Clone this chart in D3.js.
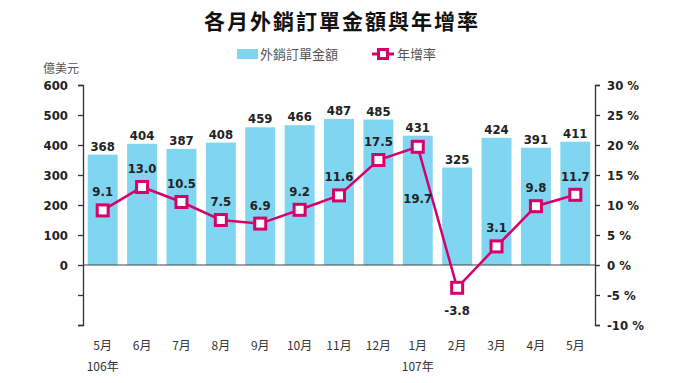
<!DOCTYPE html>
<html>
<head>
<meta charset="utf-8">
<script src="https://cdn.jsdelivr.net/npm/d3@7"></script>
<style>
  body { margin: 0; background: #fff; }
  text { font-family: "Liberation Sans Narrow", "DejaVu Sans Condensed", "Liberation Sans", Arial, sans-serif; font-stretch: condensed; }
  .cjk { font-family: "Noto Sans CJK TC", "Noto Sans", sans-serif; font-stretch: normal; }
</style>
</head>
<body>
<div id="chart"></div>
<script>
// data
const months = ["5月", "6月", "7月", "8月", "9月", "10月", "11月", "12月", "1月", "2月", "3月", "4月", "5月"];
const years = [{idx: 0, label: "106年"}, {idx: 8, label: "107年"}];
const amounts = [368, 404, 387, 408, 459, 466, 487, 485, 431, 325, 424, 391, 411];
const growth = [9.1, 13.0, 10.5, 7.5, 6.9, 9.2, 11.6, 17.5, 19.7, -3.8, 3.1, 9.8, 11.7];
const leftTicks = [0, 100, 200, 300, 400, 500, 600];
const rightTicks = [-10, -5, 0, 5, 10, 15, 20, 25, 30];

const W = 680, H = 383;
const margin = {top: 85, right: 85, bottom: 58, left: 83};
const barColor = "#80d5f1";
const lineColor = "#d6006b";

const svg = d3.select("#chart").append("svg")
  .attr("width", W).attr("height", H);

const x = d3.scaleBand()
  .domain(d3.range(months.length))
  .range([margin.left, W - margin.right])
  .paddingInner(0.24)
  .paddingOuter(0.12);

const yL = d3.scaleLinear().domain([-200, 600]).range([H - margin.bottom, margin.top]);
const yR = d3.scaleLinear().domain([-10, 30]).range([H - margin.bottom, margin.top]);

// title
svg.append("text")
  .attr("class", "cjk")
  .attr("x", 342).attr("y", 29)
  .attr("text-anchor", "middle")
  .style("font-size", "21px").style("font-weight", "bold")
  .style("letter-spacing", "2px")
  .attr("fill", "#111")
  .text("各月外銷訂單金額與年增率");

// legend
const lg = svg.append("g");
lg.append("rect").attr("x", 237).attr("y", 49).attr("width", 21).attr("height", 10).attr("fill", barColor);
lg.append("text").attr("class", "cjk").attr("x", 260).attr("y", 59)
  .style("font-size", "13px").attr("fill", "#555").text("外銷訂單金額");
lg.append("line").attr("x1", 372).attr("x2", 394).attr("y1", 54).attr("y2", 54)
  .attr("stroke", lineColor).attr("stroke-width", 3);
lg.append("rect").attr("x", 378.5).attr("y", 49.5).attr("width", 9).attr("height", 9)
  .attr("fill", "#fff").attr("stroke", lineColor).attr("stroke-width", 3);
lg.append("text").attr("class", "cjk").attr("x", 397).attr("y", 59)
  .style("font-size", "13px").attr("fill", "#555").text("年增率");

// unit label
svg.append("text").attr("class", "cjk").attr("x", 43).attr("y", 73)
  .style("font-size", "12px").attr("fill", "#555").text("億美元");

// bars
svg.append("g").selectAll("rect")
  .data(amounts)
  .join("rect")
  .attr("x", (d, i) => x(i))
  .attr("y", d => yL(d))
  .attr("width", x.bandwidth())
  .attr("height", d => yL(0) - yL(d))
  .attr("fill", barColor);

// bar labels
svg.append("g").selectAll("text")
  .data(amounts)
  .join("text")
  .attr("x", (d, i) => x(i) + x.bandwidth() / 2)
  .attr("y", d => yL(d) - 4)
  .attr("text-anchor", "middle")
  .style("font-size", "13px").style("font-weight", "bold")
  .attr("fill", "#222")
  .text(d => d);

// zero line
svg.append("line")
  .attr("x1", margin.left).attr("x2", W - margin.right)
  .attr("y1", yL(0)).attr("y2", yL(0))
  .attr("stroke", "#444").attr("stroke-width", 1.2);

// left axis
const axL = svg.append("g")
  .attr("transform", `translate(${margin.left},0)`)
  .call(d3.axisLeft(yL).tickValues([-200, -100, ...leftTicks]).tickSize(5).tickSizeOuter(5)
    .tickFormat(d => d < 0 ? "" : d));
axL.selectAll("text").style("font-size", "13px").style("font-weight", "bold").attr("fill", "#222").attr("x", -15);
axL.selectAll("path, line").attr("stroke", "#333").attr("stroke-width", 1.3);

// right axis
const axR = svg.append("g")
  .attr("transform", `translate(${W - margin.right},0)`)
  .call(d3.axisRight(yR).tickValues(rightTicks).tickSize(5).tickSizeOuter(5)
    .tickFormat(d => d + " %"));
axR.selectAll("text").style("font-size", "13px").style("font-weight", "bold").attr("fill", "#222").attr("x", 12);
axR.selectAll("path, line").attr("stroke", "#333").attr("stroke-width", 1.3);

// growth line
const cx = i => x(i) + x.bandwidth() / 2;
svg.append("path")
  .datum(growth)
  .attr("d", d3.line().x((d, i) => cx(i)).y(d => yR(d)))
  .attr("fill", "none").attr("stroke", lineColor).attr("stroke-width", 2.5);

svg.append("g").selectAll("rect")
  .data(growth)
  .join("rect")
  .attr("x", (d, i) => cx(i) - 5.5)
  .attr("y", d => yR(d) - 5.5)
  .attr("width", 11).attr("height", 11)
  .attr("fill", "#fff").attr("stroke", lineColor).attr("stroke-width", 3);

// growth labels
const labelOffset = (d, i) => {
  if (d < 0) return 27;
  if (i === 8) return 56;
  return -14;
};
svg.append("g").selectAll("text")
  .data(growth)
  .join("text")
  .attr("x", (d, i) => cx(i))
  .attr("y", (d, i) => yR(d) + labelOffset(d, i))
  .attr("text-anchor", "middle")
  .style("font-size", "13px").style("font-weight", "bold")
  .attr("fill", "#222")
  .text(d => d.toFixed(1));

// month labels
svg.append("g").selectAll("text")
  .data(months)
  .join("text")
  .attr("class", "cjk")
  .attr("x", (d, i) => cx(i))
  .attr("y", 350)
  .attr("text-anchor", "middle")
  .style("font-size", "12px")
  .attr("fill", "#333")
  .text(d => d);

svg.append("g").selectAll("text")
  .data(years)
  .join("text")
  .attr("class", "cjk")
  .attr("x", d => cx(d.idx))
  .attr("y", 371)
  .attr("text-anchor", "middle")
  .style("font-size", "12px")
  .attr("fill", "#333")
  .text(d => d.label);
</script>
</body>
</html>
